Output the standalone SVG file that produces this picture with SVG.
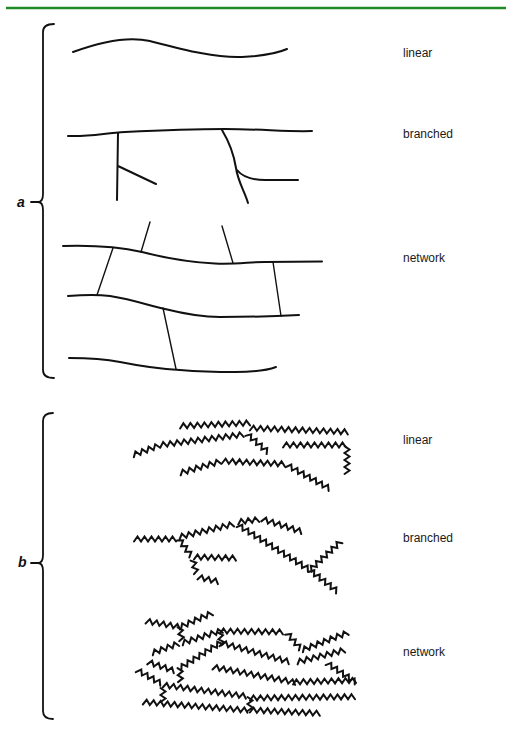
<svg xmlns="http://www.w3.org/2000/svg" xmlns:xlink="http://www.w3.org/1999/xlink" width="506" height="734" viewBox="0 0 506 734">
  <style>
    .bg{fill:#ffffff}
    .rule{stroke:#1f8a26;stroke-width:2.5;fill:none}
    .brace{stroke:#111;stroke-width:1.8;fill:none;stroke-linecap:round;stroke-linejoin:round}
    .chain{stroke:#111;stroke-width:2;fill:none;stroke-linecap:round}
    .link{stroke:#111;stroke-width:1.4;fill:none;stroke-linecap:round}
    .z{stroke:#111;stroke-width:2;fill:none;stroke-linejoin:miter;stroke-linecap:round}
    .lbl{font-family:"Liberation Sans",Arial,sans-serif;font-size:12px;fill:#1a1a1a}
    .tag{font-family:"Liberation Sans",Arial,sans-serif;font-size:14px;font-weight:bold;font-style:italic;fill:#111}
  </style>
  <defs>
    <!-- zigzag chains, N teeth of 7 px each, drawn along +x -->
    <path id="z2" class="z" d="M0,2.5l3.5-5 3.5 5 3.5-5 3.5 5"/>
    <path id="z3" class="z" d="M0,2.5l3.5-5 3.5 5 3.5-5 3.5 5 3.5-5 3.5 5"/>
    <path id="z4" class="z" d="M0,2.5l3.5-5 3.5 5 3.5-5 3.5 5 3.5-5 3.5 5 3.5-5 3.5 5"/>
    <path id="z5" class="z" d="M0,2.5l3.5-5 3.5 5 3.5-5 3.5 5 3.5-5 3.5 5 3.5-5 3.5 5 3.5-5 3.5 5"/>
    <path id="z6" class="z" d="M0,2.5l3.5-5 3.5 5 3.5-5 3.5 5 3.5-5 3.5 5 3.5-5 3.5 5 3.5-5 3.5 5 3.5-5 3.5 5"/>
    <path id="z7" class="z" d="M0,2.5l3.5-5 3.5 5 3.5-5 3.5 5 3.5-5 3.5 5 3.5-5 3.5 5 3.5-5 3.5 5 3.5-5 3.5 5 3.5-5 3.5 5"/>
    <path id="z8" class="z" d="M0,2.5l3.5-5 3.5 5 3.5-5 3.5 5 3.5-5 3.5 5 3.5-5 3.5 5 3.5-5 3.5 5 3.5-5 3.5 5 3.5-5 3.5 5 3.5-5 3.5 5"/>
    <path id="z9" class="z" d="M0,2.5l3.5-5 3.5 5 3.5-5 3.5 5 3.5-5 3.5 5 3.5-5 3.5 5 3.5-5 3.5 5 3.5-5 3.5 5 3.5-5 3.5 5 3.5-5 3.5 5 3.5-5 3.5 5"/>
    <path id="z10" class="z" d="M0,2.5l3.5-5 3.5 5 3.5-5 3.5 5 3.5-5 3.5 5 3.5-5 3.5 5 3.5-5 3.5 5 3.5-5 3.5 5 3.5-5 3.5 5 3.5-5 3.5 5 3.5-5 3.5 5 3.5-5 3.5 5"/>
    <path id="z12" class="z" d="M0,2.5l3.5-5 3.5 5 3.5-5 3.5 5 3.5-5 3.5 5 3.5-5 3.5 5 3.5-5 3.5 5 3.5-5 3.5 5 3.5-5 3.5 5 3.5-5 3.5 5 3.5-5 3.5 5 3.5-5 3.5 5 3.5-5 3.5 5 3.5-5 3.5 5"/>
    <path id="z14" class="z" d="M0,2.5l3.5-5 3.5 5 3.5-5 3.5 5 3.5-5 3.5 5 3.5-5 3.5 5 3.5-5 3.5 5 3.5-5 3.5 5 3.5-5 3.5 5 3.5-5 3.5 5 3.5-5 3.5 5 3.5-5 3.5 5 3.5-5 3.5 5 3.5-5 3.5 5 3.5-5 3.5 5 3.5-5 3.5 5"/>
    <path id="z15" class="z" d="M0,2.5l3.5-5 3.5 5 3.5-5 3.5 5 3.5-5 3.5 5 3.5-5 3.5 5 3.5-5 3.5 5 3.5-5 3.5 5 3.5-5 3.5 5 3.5-5 3.5 5 3.5-5 3.5 5 3.5-5 3.5 5 3.5-5 3.5 5 3.5-5 3.5 5 3.5-5 3.5 5 3.5-5 3.5 5 3.5-5 3.5 5"/>
  </defs>

  <rect class="bg" x="0" y="0" width="506" height="734"/>
  <line class="rule" x1="6" y1="8" x2="506" y2="8"/>

  <!-- panel a: smooth chains -->
  <g id="panel-a">
    <g id="brace-a">
      <path class="brace" d="M54,24 Q43,24 43,32 L43,194 Q43,202 38,202 M31,202 L38,202 Q43,202 43,210 L43,370 Q43,378 54,378"/>
      <text class="tag" x="17" y="207">a</text>
    </g>
    <g id="a-linear">
      <path class="chain" d="M73,52 C100,42 128,36 150,41 C185,50 215,58 242,57 C262,56 278,53 287,49"/>
    </g>
    <g id="a-branched">
      <path class="chain" d="M68,136 C90,137 105,133 125,132 C165,130 200,129 225,129 C260,129 290,132 312,131"/>
      <path class="chain" d="M118,133 L117,200 M118,166 L156,184"/>
      <path class="chain" d="M222,130 C228,140 234,155 236,168 C238,182 245,192 248,203 M237,170 Q245,180 265,180 L298,180"/>
    </g>
    <g id="a-network">
      <path class="chain" d="M63,246 C95,245 120,247 142,252 C165,258 185,262 215,263.5 C235,264.5 250,262 265,262 L322,261.5"/>
      <path class="chain" d="M68,296 C80,295 95,294 110,296 C135,300 150,306 165,309 C185,314 200,317 220,317 C250,317 280,316 299,315"/>
      <path class="chain" d="M69,358 C90,358 105,359 120,362 C140,366 160,369 180,370 C205,372 220,372 235,372 C255,372 268,370 276,367"/>
      <path class="link" d="M150,222 L141,252 M222,226 L233,263 M113,248 L97,295 M273,262 L281,316 M163,308 L176,369"/>
    </g>
  </g>

  <!-- panel b: zigzag chains -->
  <g id="panel-b">
    <g id="brace-b">
      <path class="brace" d="M53,413 Q43,413 43,421 L43,555 Q43,563 38,563 M31,563 L38,563 Q43,563 43,571 L43,711 Q43,719 53,719"/>
      <text class="tag" x="18" y="567">b</text>
    </g>
    <g id="b-linear">
      <use href="#z10" transform="translate(180,426) rotate(-2.5)"/>
      <use href="#z14" transform="translate(250,428) rotate(2.3)"/>
      <use href="#z4" transform="translate(133,455) rotate(-20)"/>
      <use href="#z12" transform="translate(160,445) rotate(-7.2)"/>
      <use href="#z4" transform="translate(247,434) rotate(40.6)"/>
      <use href="#z9" transform="translate(283,445)"/>
      <use href="#z4" transform="translate(347,446) rotate(90)"/>
      <use href="#z6" transform="translate(180,473) rotate(-16)"/>
      <use href="#z9" transform="translate(222,461) rotate(2.7)"/>
      <use href="#z7" transform="translate(287,465) rotate(29)"/>
    </g>
    <g id="b-branched">
      <use href="#z6" transform="translate(134,539)"/>
      <use href="#z8" transform="translate(179,537) rotate(-13.3)"/>
      <use href="#z3" transform="translate(238,522) rotate(-7)"/>
      <use href="#z6" transform="translate(262,519) rotate(17.6)"/>
      <use href="#z12" transform="translate(238,525) rotate(32)"/>
      <use href="#z6" transform="translate(310,570) rotate(-43)"/>
      <use href="#z5" transform="translate(310,570) rotate(38)"/>
      <use href="#z3" transform="translate(179,539) rotate(54)"/>
      <use href="#z6" transform="translate(194,557) rotate(1.5)"/>
      <use href="#z2" transform="translate(193,560) rotate(76)"/>
      <use href="#z3" transform="translate(198,577) rotate(12.8)"/>
    </g>
    <g id="b-network">
      <use href="#z5" transform="translate(146,621) rotate(10)"/>
      <use href="#z5" transform="translate(180,627) rotate(-23.6)"/>
      <use href="#z2" transform="translate(180,627) rotate(83)"/>
      <use href="#z4" transform="translate(152,653) rotate(-19.5)"/>
      <use href="#z6" transform="translate(182,643) rotate(-17.4)"/>
      <use href="#z9" transform="translate(220,631) rotate(0.9)"/>
      <use href="#z3" transform="translate(287,633) rotate(49)"/>
      <use href="#z7" transform="translate(302,650) rotate(-20.8)"/>
      <use href="#z2" transform="translate(220,632) rotate(82)"/>
      <use href="#z10" transform="translate(222,643) rotate(15.6)"/>
      <use href="#z7" transform="translate(180,668) rotate(-32)"/>
      <use href="#z2" transform="translate(180,668) rotate(88)"/>
      <use href="#z4" transform="translate(148,662) rotate(18.4)"/>
      <use href="#z4" transform="translate(137,670) rotate(29)"/>
      <use href="#z12" transform="translate(163,685) rotate(7.7)"/>
      <use href="#z2" transform="translate(163,688) rotate(90)"/>
      <use href="#z15" transform="translate(143,702) rotate(4.5)"/>
      <use href="#z10" transform="translate(250,710) rotate(2.7)"/>
      <use href="#z2" transform="translate(250,697) rotate(90)"/>
      <use href="#z15" transform="translate(250,698) rotate(-0.7)"/>
      <use href="#z12" transform="translate(213,667) rotate(10.6)"/>
      <use href="#z9" transform="translate(293,682) rotate(-1.5)"/>
      <use href="#z7" transform="translate(297,662) rotate(-14)"/>
      <use href="#z5" transform="translate(327,663) rotate(33.7)"/>
    </g>
  </g>

  <!-- labels -->
  <g id="labels">
    <text class="lbl" x="403" y="57">linear</text>
    <text class="lbl" x="403" y="138">branched</text>
    <text class="lbl" x="403" y="262">network</text>
    <text class="lbl" x="403" y="444">linear</text>
    <text class="lbl" x="403" y="542">branched</text>
    <text class="lbl" x="403" y="656">network</text>
  </g>
</svg>
